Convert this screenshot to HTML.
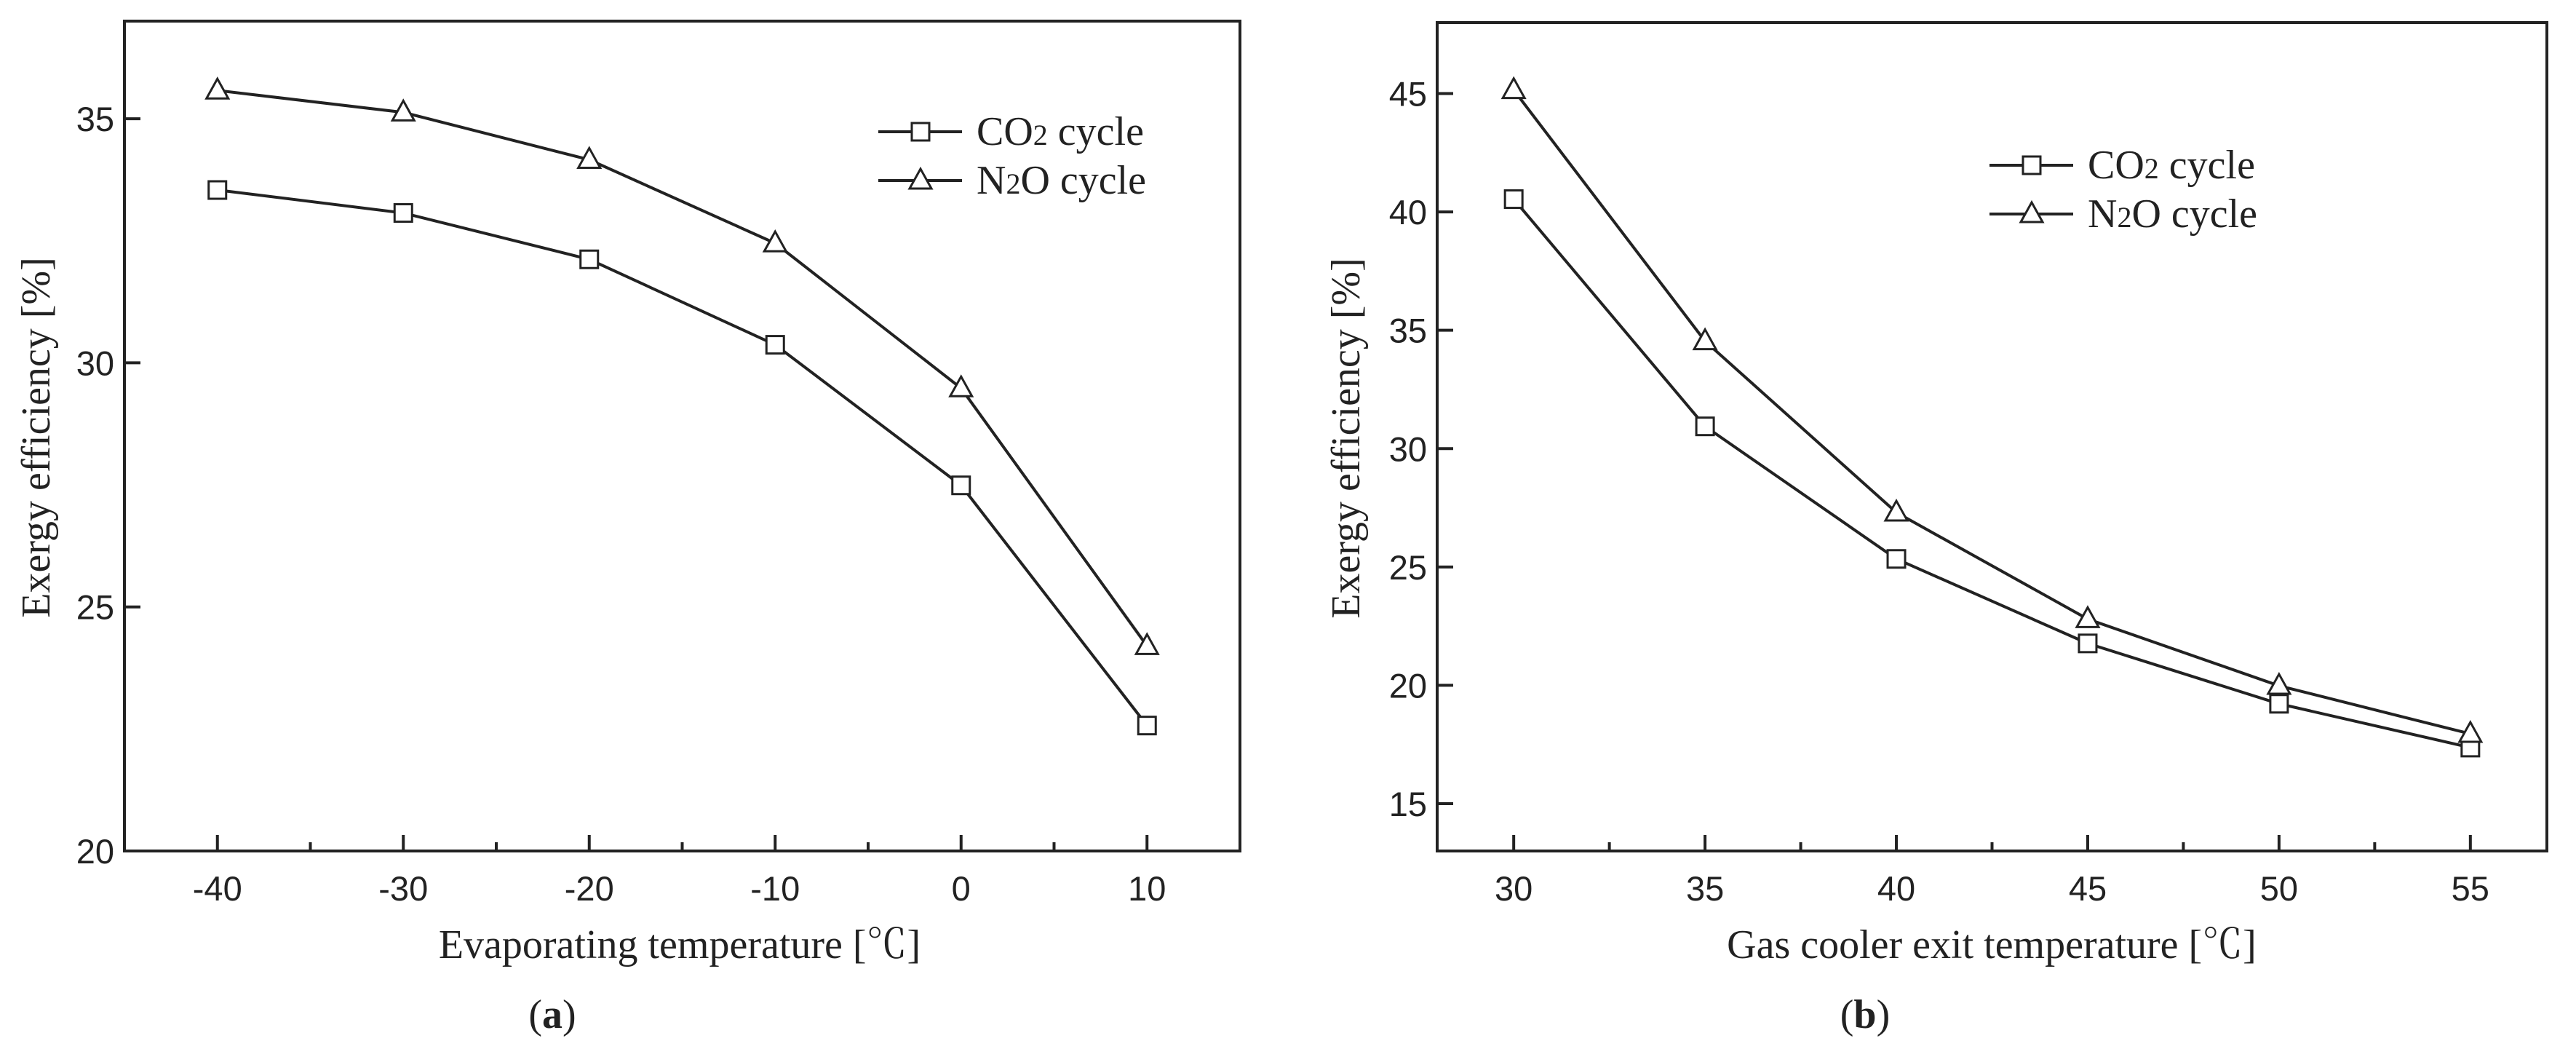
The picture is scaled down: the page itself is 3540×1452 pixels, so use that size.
<!DOCTYPE html>
<html><head><meta charset="utf-8"><style>
html,body{margin:0;padding:0;background:#fff;}
svg{display:block;}
.tk{font-family:"Liberation Sans",sans-serif;font-size:47px;fill:#222;}
.tt{font-family:"Liberation Serif","Noto Serif CJK SC",serif;font-size:56px;fill:#222;}
</style></head><body>
<svg id="chart" width="3540" height="1452" viewBox="0 0 3540 1452" xmlns="http://www.w3.org/2000/svg"></svg>
<script>
// Panel (a) data
const aX = [-40, -30, -20, -10, 0, 10];
const aCO2 = [33.54, 33.07, 32.12, 30.37, 27.49, 22.57];
const aN2O = [35.58, 35.13, 34.16, 32.45, 29.48, 24.2];
const aXTicks = [-40, -30, -20, -10, 0, 10];
const aYTicks = [20, 25, 30, 35];
// Panel (b) data
const bX = [30, 35, 40, 45, 50, 55];
const bCO2 = [40.54, 30.94, 25.34, 21.77, 19.22, 17.37];
const bN2O = [45.15, 34.54, 27.3, 22.8, 19.98, 17.95];
const bXTicks = [30, 35, 40, 45, 50, 55];
const bYTicks = [15, 20, 25, 30, 35, 40, 45];

const NS = "http://www.w3.org/2000/svg";
const svg = document.getElementById('chart');
function mk(tag, attrs, parent) {
  const e = document.createElementNS(NS, tag);
  for (const k in attrs) e.setAttribute(k, attrs[k]);
  (parent || svg).appendChild(e);
  return e;
}

function panel(cfg) {
  const g = mk('g', {});
  
  
  const L = cfg.left, R = cfg.right, T = cfg.top, B = cfg.bottom;
  const xs = v => L + (v - cfg.xmin) / (cfg.xmax - cfg.xmin) * (R - L);
  const ys = v => B - (v - cfg.ymin) / (cfg.ymax - cfg.ymin) * (B - T);
  const frame = mk('rect', {x: L, y: T, width: R - L, height: B - T, fill: 'none', stroke: '#222', 'stroke-width': 4}, g);
  
  
  cfg.xticks.forEach((v, i) => {
    const x = xs(v);
    const t = mk('line', {x1: x, x2: x, y1: B, y2: B - 22, stroke: '#222', 'stroke-width': 4}, g);
    
    
    const lb = mk('text', {x: x, y: B + 68, 'text-anchor': 'middle', class: 'tk'}, g);
    lb.textContent = v;
    
    
    if (i < cfg.xticks.length - 1) {
      const mx = xs((v + cfg.xticks[i + 1]) / 2);
      const m = mk('line', {x1: mx, x2: mx, y1: B, y2: B - 12, stroke: '#222', 'stroke-width': 4}, g);
      
      
    }
  });
  cfg.yticks.forEach(v => {
    const y = ys(v);
    const t = mk('line', {x1: L, x2: L + 22, y1: y, y2: y, stroke: '#222', 'stroke-width': 4}, g);
    
    
    const lb = mk('text', {x: L - 14, y: y + 17, 'text-anchor': 'end', class: 'tk'}, g);
    lb.textContent = v;
    
    
  });
  [[cfg.co2, 'sq', 'co2-series'], [cfg.n2o, 'tri', 'n2o-series']].forEach(([vals, shape, nm]) => {
    const pts = cfg.x.map((v, i) => xs(v) + ',' + ys(vals[i])).join(' ');
    const pl = mk('polyline', {points: pts, fill: 'none', stroke: '#222', 'stroke-width': 4}, g);
    
    
    cfg.x.forEach((v, i) => {
      const m = marker(shape, xs(v), ys(vals[i]), g);
      
      
    });
  });
  const lg = mk('g', {}, g);
  
  
  [['CO', '2', ' cycle', 'sq', cfg.leg1y], ['N', '2', 'O cycle', 'tri', cfg.leg2y]].forEach(([a, s, b, shape, y]) => {
    const e = mk('g', {}, lg);
    
    
    mk('line', {x1: cfg.legx, x2: cfg.legx + 115, y1: y, y2: y, stroke: '#222', 'stroke-width': 4}, e);
    marker(shape, cfg.legx + 58, y, e);
    const t = mk('text', {x: cfg.legx + 135, y: y + 18, class: 'tt', 'font-size': '54'}, e);
    const t1 = mk('tspan', {}, t); t1.textContent = a;
    const t2 = mk('tspan', {'font-size': '40'}, t); t2.textContent = s;
    const t3 = mk('tspan', {}, t); t3.textContent = b;
  });
  const yl = mk('text', {x: 0, y: 0, class: 'tt', 'font-size': '60', 'text-anchor': 'middle', transform: `translate(${cfg.ylx},${(T + B) / 2 + 2}) rotate(-90)`}, g);
  yl.textContent = 'Exergy efficiency [%]';
  
  
  const xl = mk('text', {x: cfg.xlx, y: 1316, class: 'tt', 'text-anchor': 'middle'}, g);
  xl.textContent = cfg.xtitle;
  
  
  const cap = mk('text', {x: cfg.capx, y: 1412, class: 'tt', 'text-anchor': 'middle', 'font-size': '62'}, g);
  const c1 = mk('tspan', {}, cap); c1.textContent = '(';
  const c2 = mk('tspan', {'font-weight': 'bold'}, cap); c2.textContent = cfg.cap;
  const c3 = mk('tspan', {}, cap); c3.textContent = ')';
  
  
}

function marker(shape, x, y, parent) {
  if (shape === 'sq') {
    return mk('rect', {x: x - 12, y: y - 12, width: 24, height: 24, fill: '#fff', stroke: '#222', 'stroke-width': 3}, parent);
  }
  return mk('polygon', {points: `${x},${y - 16} ${x + 15},${y + 11} ${x - 15},${y + 11}`, fill: '#fff', stroke: '#222', 'stroke-width': 3}, parent);
}

panel({name: 'panel-a', left: 171, right: 1704, top: 29, bottom: 1169,
  xmin: -45, xmax: 15, ymin: 20, ymax: 37,
  x: aX, co2: aCO2, n2o: aN2O, xticks: aXTicks, yticks: aYTicks,
  legx: 1207, leg1y: 181, leg2y: 248, ylx: 68, xlx: 934,
  xtitle: 'Evaporating temperature  [\u2103]', capx: 759, cap: 'a'});
panel({name: 'panel-b', left: 1975, right: 3500, top: 31, bottom: 1169,
  xmin: 28, xmax: 57, ymin: 13, ymax: 48,
  x: bX, co2: bCO2, n2o: bN2O, xticks: bXTicks, yticks: bYTicks,
  legx: 2734, leg1y: 227, leg2y: 294, ylx: 1868, xlx: 2737,
  xtitle: 'Gas cooler exit temperature  [\u2103]', capx: 2563, cap: 'b'});
</script>
</body></html>
